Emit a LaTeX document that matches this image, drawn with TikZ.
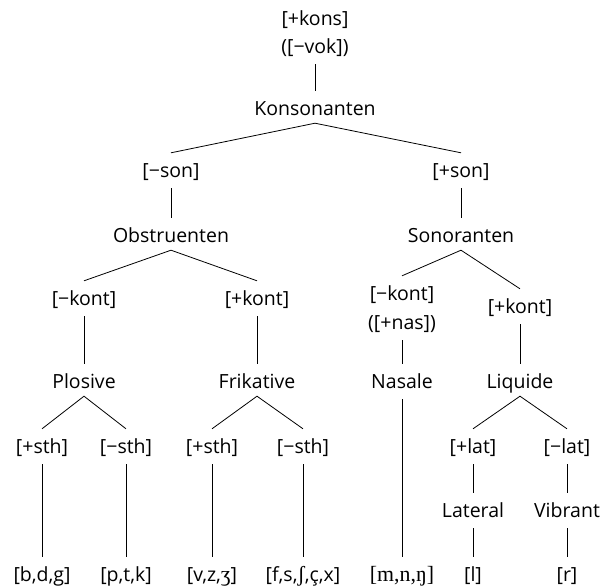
\documentclass[tikz,border=0pt]{standalone}
\usepackage{fontspec}
\setmainfont{Open Sans}
\newfontfamily\ipafont[Scale=1.12]{Liberation Serif}
\begin{document}
\begin{tikzpicture}[x=1pt,y=-1pt,
  lab/.style={font=\fontsize{19.5}{28}\selectfont, anchor=base, text height=15pt, text depth=2pt, inner xsep=2pt, inner ysep=9pt},
  edge/.style={line width=0.8pt}]
\useasboundingbox (0,0) rectangle (607,586);
% level 0
\node[lab] (kons) at (315,26) {[+kons]};
\node[lab] (vok) at (315,53) {([−vok])};
\node[lab] (konsonanten) at (315,115) {Konsonanten};
% level 1
\node[lab] (minson) at (171,177) {[−son]};
\node[lab] (plusson) at (461,177) {[+son]};
\node[lab] (obstr) at (171,242) {Obstruenten};
\node[lab] (sonor) at (461,242) {Sonoranten};
% level 2
\node[lab] (okont) at (84,305) {[−kont]};
\node[lab] (pkont) at (257,305) {[+kont]};
\node[lab] (skont) at (402,300) {[−kont]};
\node[lab] (nas) at (402,329) {([+nas])};
\node[lab] (lkont) at (520,313) {[+kont]};
% level 3
\node[lab] (plos) at (84,388) {Plosive};
\node[lab] (frik) at (257,388) {Frikative};
\node[lab] (nasale) at (402,388) {Nasale};
\node[lab] (liq) at (520,388) {Liquide};
% level 4
\node[lab] (psth) at (42,453) {[+sth]};
\node[lab] (msth) at (126,453) {[−sth]};
\node[lab] (fpsth) at (212,453) {[+sth]};
\node[lab] (fmsth) at (303,453) {[−sth]};
\node[lab] (plat) at (473,453) {[+lat]};
\node[lab] (mlat) at (567,453) {[−lat]};
\node[lab] (lateral) at (473,517) {Lateral};
\node[lab] (vibrant) at (567,517) {Vibrant};
% leaves
\node[lab] (bdg) at (42,581) {[b,d,g]};
\node[lab] (ptk) at (126,581) {[p,t,k]};
\node[lab] (vzz) at (212,581) {[v,z,{\ipafont ʒ}]};
\node[lab] (fsx) at (303,581) {[f,s,{\ipafont ʃ},ç,x]};
\node[lab] (mnn) at (402,581) {{\ipafont [m,n,ŋ]}};
\node[lab] (l) at (473,581) {[l]};
\node[lab] (r) at (567,581) {[r]};
% edges
\draw[edge] (vok.south) -- (konsonanten.north);
\draw[edge] (minson.north) -- ([yshift=3pt]konsonanten.south) -- (plusson.north);
\draw[edge] (minson.south) -- (obstr.north);
\draw[edge] (plusson.south) -- (sonor.north);
\draw[edge] (okont.north) -- ([yshift=3pt]obstr.south) -- (pkont.north);
\draw[edge] (skont.north) -- ([yshift=3pt]sonor.south) -- (lkont.north);
\draw[edge] (okont.south) -- (plos.north);
\draw[edge] (pkont.south) -- (frik.north);
\draw[edge] (nas.south) -- (nasale.north);
\draw[edge] (lkont.south) -- (liq.north);
\draw[edge] (psth.north) -- ([yshift=3pt]plos.south) -- (msth.north);
\draw[edge] (fpsth.north) -- ([yshift=3pt]frik.south) -- (fmsth.north);
\draw[edge] (plat.north) -- ([yshift=3pt]liq.south) -- (mlat.north);
\draw[edge] (psth.south) -- (bdg.north);
\draw[edge] (msth.south) -- (ptk.north);
\draw[edge] (fpsth.south) -- (vzz.north);
\draw[edge] (fmsth.south) -- (fsx.north);
\draw[edge] (nasale.south) -- (mnn.north);
\draw[edge] (plat.south) -- (lateral.north);
\draw[edge] (mlat.south) -- (vibrant.north);
\draw[edge] (lateral.south) -- (l.north);
\draw[edge] (vibrant.south) -- (r.north);
\end{tikzpicture}
\end{document}
